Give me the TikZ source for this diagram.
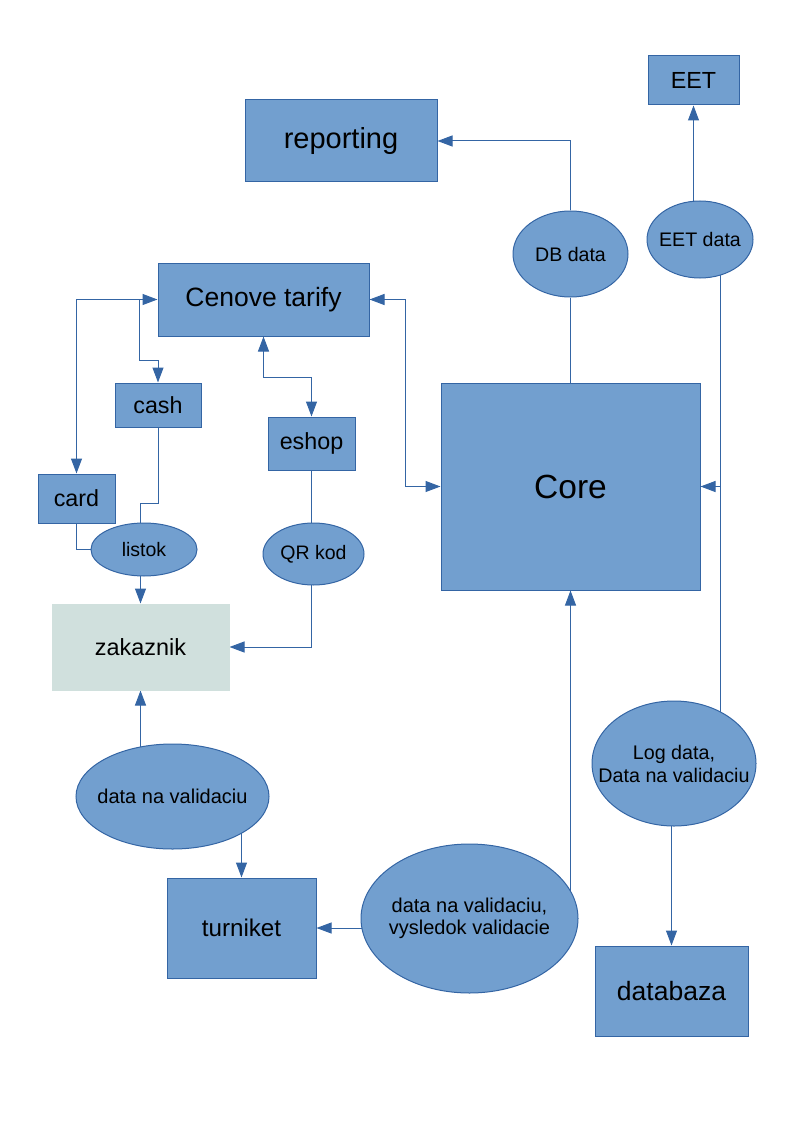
\documentclass[tikz,border=0pt]{standalone}
\usepackage{fontspec}
\setmainfont{Liberation Sans}
\usetikzlibrary{shapes.geometric,arrows.meta,backgrounds,calc}
\definecolor{bl}{HTML}{729FCF}
\definecolor{bd}{HTML}{3465A4}
\definecolor{zk}{HTML}{D0E0DD}
\newcommand{\fs}[1]{\fontsize{#1}{#1}\selectfont}
\tikzset{
  box/.style={rectangle,draw=bd,fill=bl,line width=1pt,inner sep=0pt,text=black},
  ell/.style={ellipse,draw=bd,fill=bl,line width=1pt,inner sep=0pt},
  lab/.style={text=black,align=center,inner sep=0pt},
  ln/.style={draw=bd,line width=1pt},
  arr/.style={ln,-{Triangle[length=15pt,width=11pt]}},
  arrb/.style={ln,{Triangle[length=15pt,width=11pt]}-{Triangle[length=15pt,width=11pt]}},
}
\begin{document}
\begin{tikzpicture}[x=1pt,y=-1pt]
\useasboundingbox (0,0) rectangle (794,1123);
% boxes
\node[box,minimum width=192pt,minimum height=82pt,font=\fs{29}] (rep) at (341,141) {reporting};
\node[box,minimum width=91pt,minimum height=49pt,font=\fs{23.3}] (eet) at (693.5,80.5) {EET};
\node[box,minimum width=211pt,minimum height=73pt,font=\fs{26.5}] (cen) at (263.5,299.5) {Cenove tarify};
\node[box,minimum width=86pt,minimum height=44pt,font=\fs{23.3}] (cash) at (158,405) {cash};
\node[box,minimum width=87pt,minimum height=53pt,font=\fs{23.3}] (eshop) at (311.5,443.5) {eshop};
\node[box,minimum width=77pt,minimum height=49pt,font=\fs{23.3}] (card) at (76.5,498.5) {card};
\node[box,draw=zk,fill=zk,minimum width=177pt,minimum height=86pt,font=\fs{23.4}] (zak) at (140.5,647) {zakaznik};
\node[box,minimum width=259pt,minimum height=207pt,font=\fs{33.5}] (core) at (570.5,486.5) {Core};
\node[box,minimum width=149pt,minimum height=100pt,font=\fs{24.2}] (turn) at (241.5,928) {turniket};
\node[box,minimum width=153pt,minimum height=90pt,font=\fs{26.5}] (dbz) at (671.5,991) {databaza};
% ellipses
\node[ell,minimum width=106pt,minimum height=53pt,label={[lab,font=\fs{19.5}]center:listok}] (listok) at (144,549.5) {};
\node[ell,minimum width=101pt,minimum height=62pt,label={[lab,font=\fs{19.5}]center:QR kod}] (qr) at (313.5,554) {};
\node[ell,minimum width=115pt,minimum height=86pt,label={[lab,font=\fs{19.6}]center:DB data}] (db) at (570.5,254) {};
\node[ell,minimum width=106pt,minimum height=77pt,label={[lab,font=\fs{19.6}]center:EET data}] (eetd) at (700,239.5) {};
\node[ell,minimum width=193pt,minimum height=105pt,label={[lab,font=\fs{20}]center:data na validaciu}] (dnv) at (172.5,796.5) {};
\node[ell,minimum width=217pt,minimum height=149pt,label={[lab,font=\fontsize{20}{22.5}\selectfont]center:{data na validaciu,\\vysledok validacie}}] (big) at (469.5,918.5) {};
\node[ell,minimum width=164pt,minimum height=125pt,label={[lab,font=\fontsize{19.7}{23}\selectfont]center:{Log data,\\Data na validaciu}}] (log) at (674,763.5) {};
% helper coordinates
\coordinate (jx) at (720,487);
\coordinate (cj) at (139,360);
\begin{pgfonlayer}{background}
\draw[ln] (core.north) -- (db.south);
\draw[arr] (db.north) |- (rep.east);
\draw[arr] (eetd.center -| eet.south) -- (eet.south);
\draw[ln] (log.center -| jx) -- (eetd.center -| jx);
\draw[arr] (jx |- core.east) -- (core.east);
\draw[arrb] (card.north) |- (cen.west);
\draw[arr] (cen.west -| cj) -- (cj) -| (cash.north);
\draw[arrb] (cen.south) -- ++(0,40.5) -| (eshop.north);
\draw[arrb] (cen.east) -- ++(36,0) |- (core.west);
\draw[ln] (cash.south) -- ++(0,76) -| (listok.center -| zak.north);
\draw[ln] (card.south) |- (listok.center);
\draw[arr] (listok.center -| zak.north) -- (zak.north);
\draw[ln] (eshop.south) -- (eshop.south |- qr.center);
\draw[arr] (qr.center -| eshop.south) |- (zak.east);
\draw[arr] (dnv.center -| zak.south) -- (zak.south);
\draw[arr] (dnv.center -| turn.north) -- (turn.north);
\draw[arr] (big.center |- turn.east) -- (turn.east);
\draw[arr] (big.center -| core.south) -- (core.south);
\draw[arr] (log.center -| dbz.north) -- (dbz.north);
\end{pgfonlayer}
\end{tikzpicture}
\end{document}
